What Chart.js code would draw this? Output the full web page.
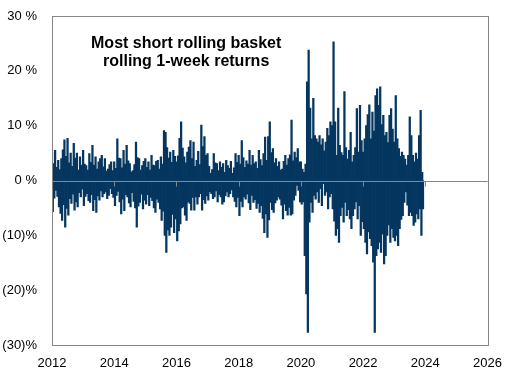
<!DOCTYPE html>
<html>
<head>
<meta charset="utf-8">
<script src="https://cdn.jsdelivr.net/npm/chart.js@4.4.1/dist/chart.umd.min.js"></script>
<style>
  body { margin: 0; background: #fff; }
  canvas { display: block; }
</style>
</head>
<body>
<canvas id="chart" width="513" height="376"></canvas>
<script>
// rolling 1-week returns (%): 20 up-moves and 20 down-moves per year
const pos2012 = [5.2,3.1,5.5,2.4,3.7,2.0,4.0,5.6,7.4,4.4,7.7,3.2,5.0,2.6,6.8,4.1,5.0,1.9,4.3,2.8];
const neg2012 = [-5.7,-3.2,-1.8,-2.9,-4.8,-6.0,-7.3,-4.4,-8.5,-5.1,-6.3,-3.3,-4.2,-2.5,-5.4,-3.9,-4.8,-2.2,-3.0,-1.6];
const pos2013 = [5.5,3.0,2.7,1.9,4.9,3.3,6.4,2.8,4.3,2.1,3.4,4.0,4.6,2.5,4.0,1.7,2.1,2.9,3.4,1.8];
const neg2013 = [-4.6,-2.9,-2.4,-3.7,-4.0,-2.6,-5.5,-3.5,-5.8,-2.8,-3.6,-1.9,-3.0,-2.4,-2.1,-3.3,-2.7,-1.5,-2.4,-3.1];
const pos2014 = [3.4,2.2,7.6,4.1,4.0,2.3,5.5,3.0,6.4,3.6,3.1,1.6,1.8,2.9,7.0,4.2,4.0,1.9,2.7,3.5];
const neg2014 = [-4.6,-2.7,-2.0,-3.9,-6.1,-3.4,-5.5,-2.6,-3.0,-4.1,-4.8,-2.2,-3.8,-5.0,-8.5,-4.7,-4.0,-2.5,-5.2,-3.6];
const pos2015 = [4.0,2.4,3.4,1.9,4.6,2.8,2.7,3.5,3.7,2.1,4.3,3.0,9.1,8.8,6.0,4.1,5.2,3.3,5.5,4.4];
const neg2015 = [-4.3,-2.6,-4.6,-3.1,-3.7,-5.0,-5.8,-3.4,-4.0,-5.2,-7.3,-5.6,-10.0,-13.1,-9.0,-10.0,-8.5,-6.2,-9.5,-7.0];
const pos2016 = [3.4,4.5,7.7,10.7,5.9,4.3,3.2,5.2,6.1,7.3,4.0,7.0,2.6,3.7,5.3,2.9,10.1,6.2,8.0,4.6];
const neg2016 = [-11.0,-9.2,-7.9,-5.0,-4.8,-6.3,-7.3,-3.9,-4.2,-5.4,-3.1,-5.4,-3.0,-4.3,-3.0,-2.4,-5.4,-3.5,-4.2,-2.8];
const pos2017 = [4.9,2.6,1.3,2.0,4.9,3.2,3.1,1.8,3.4,2.4,3.1,1.5,3.7,2.7,2.2,3.5,1.3,2.3,4.9,3.3];
const neg2017 = [-3.6,-2.1,-2.4,-3.3,-3.0,-1.9,-3.9,-2.6,-3.0,-4.3,-3.9,-2.8,-2.1,-3.0,-2.4,-1.7,-3.0,-3.8,-4.8,-3.1];
const pos2018 = [4.6,3.0,7.3,4.2,2.4,3.6,3.0,5.5,2.8,4.6,3.1,3.4,2.2,5.5,3.8,2.7,4.9,7.9,3.7,8.0];
const neg2018 = [-6.4,-3.8,-4.8,-3.0,-3.4,-2.5,-4.1,-5.3,-2.7,-4.0,-3.5,-5.1,-4.2,-5.8,-4.6,-6.9,-9.5,-6.1,-10.4,-7.2];
const pos2019 = [10.7,5.1,5.8,3.2,4.0,2.6,3.4,1.9,2.1,3.5,4.6,2.8,4.0,4.7,11.0,3.6,5.2,4.2,5.8,3.4];
const neg2019 = [-4.0,-5.3,-5.8,-4.1,-3.6,-3.0,-3.4,-4.5,-7.0,-4.3,-5.5,-6.3,-4.9,-6.3,-6.1,-3.6,-2.7,-0.9,-1.8,-3.9];
const pos2020 = [3.4,2.1,1.5,3.0,18.0,23.8,13.2,7.6,15.0,8.2,7.6,7.0,8.2,6.5,7.6,5.4,7.0,9.5,8.2,10.7];
const neg2020 = [-4.3,-3.9,-13.7,-20.7,-27.7,-7.6,-4.0,-5.8,-2.7,-3.4,-2.1,-4.0,-1.5,-4.6,-0.6,-2.7,-2.1,-5.2,-3.0,-2.4];
const pos2021 = [10.0,25.3,10.7,4.6,13.2,6.4,5.1,4.6,16.2,6.0,3.9,5.5,8.8,3.4,4.6,6.0,13.1,5.2,13.7,7.3];
const neg2021 = [-5.2,-7.4,-10.0,-8.8,-11.3,-6.4,-4.9,-7.6,-4.0,-6.4,-5.3,-7.0,-8.8,-6.4,-5.2,-3.9,-7.0,-4.6,-10.0,-7.5];
const pos2022 = [5.2,7.6,10.0,12.0,13.8,7.6,12.5,9.0,15.5,16.7,13.7,17.1,10.2,11.9,8.2,8.8,6.9,11.9,13.1,9.4];
const neg2022 = [-8.8,-11.3,-13.4,-9.4,-10.6,-11.9,-14.9,-27.7,-13.7,-12.5,-11.3,-13.1,-9.8,-15.2,-13.7,-10.0,-8.1,-11.3,-8.8,-10.4];
const pos2023 = [7.0,15.5,7.6,5.8,4.4,5.2,4.6,3.9,2.8,4.6,11.6,8.2,4.6,3.4,5.0,3.9,8.2,12.8,1.5];
const neg2023 = [-11.0,-10.0,-11.9,-8.8,-7.1,-6.4,-4.0,-2.1,-4.5,-6.4,-5.8,-6.4,-8.2,-7.6,-6.1,-7.0,-5.2,-10.0,-5.2];

const years = [2012,2013,2014,2015,2016,2017,2018,2019,2020,2021,2022,2023];
const upMoves = [pos2012,pos2013,pos2014,pos2015,pos2016,pos2017,pos2018,pos2019,pos2020,pos2021,pos2022,pos2023];
const downMoves = [neg2012,neg2013,neg2014,neg2015,neg2016,neg2017,neg2018,neg2019,neg2020,neg2021,neg2022,neg2023];
const perYear = 40;

const xTicks = [2012,2014,2016,2018,2020,2022,2024,2026];
const yTicks = [-30,-20,-10,0,10,20,30];
const titleLines = ['Most short rolling basket', 'rolling 1-week returns'];

// readings alternate up / down through each year
const points = [];
years.forEach(function (yr, k) {
    upMoves[k].forEach(function (v, j) {
        points.push({ x: yr + (2 * j) / perYear, y: v });
        points.push({ x: yr + (2 * j + 1) / perYear, y: downMoves[k][j] });
    });
});

const gray = '#868686';

// frame, zero line with its tick marks, and the title inside the plot
const framePlugin = {
    id: 'frame',
    afterDatasetsDraw(chart) {
        const ctx = chart.ctx;
        const a = chart.chartArea;
        const xs = chart.scales.x;
        const y0 = Math.round(chart.scales.y.getPixelForValue(0)) + 0.5;
        ctx.save();
        ctx.strokeStyle = gray;
        ctx.lineWidth = 1;
        ctx.beginPath();
        ctx.moveTo(a.left, y0);
        ctx.lineTo(a.right, y0);
        xTicks.forEach(function (t) {
            const px = Math.round(xs.getPixelForValue(t)) + 0.5;
            ctx.moveTo(px, y0);
            ctx.lineTo(px, y0 + 5);
        });
        ctx.stroke();
        ctx.strokeRect(Math.round(a.left) + 0.5, Math.round(a.top) + 0.5,
            Math.round(a.right - a.left), Math.round(a.bottom - a.top));

        ctx.fillStyle = '#000';
        ctx.font = 'bold 16px "Liberation Sans", Arial, sans-serif';
        ctx.textAlign = 'center';
        ctx.textBaseline = 'middle';
        const cx = a.left + (a.right - a.left) * 0.308;
        ctx.fillText(titleLines[0], cx, a.top + 28);
        ctx.fillText(titleLines[1], cx, a.top + 46);
        ctx.restore();
    }
};

const ctx = document.getElementById('chart').getContext('2d');
const chart = new Chart(ctx, {
    type: 'bar',
    data: {
        datasets: [{
            data: points,
            backgroundColor: '#04365F',
            borderWidth: 0,
            barThickness: 1.6
        }]
    },
    options: {
        responsive: false,
        animation: false,
        layout: { padding: { top: 16, right: 23, left: 0, bottom: 0 } },
        plugins: { legend: { display: false }, tooltip: { enabled: false } },
        scales: {
            x: {
                type: 'linear',
                min: 2012,
                max: 2026,
                offset: false,
                grid: { display: false, drawTicks: false },
                border: { display: false },
                afterBuildTicks: function (s) { s.ticks = xTicks.map(v => ({ value: v })); },
                afterFit: function (s) { s.height = 31; },
                ticks: {
                    autoSkip: false,
                    maxRotation: 0,
                    padding: 11,
                    color: '#000',
                    font: { family: '"Liberation Sans", Arial, sans-serif', size: 13 },
                    callback: v => String(v)
                }
            },
            y: {
                min: -30,
                max: 30,
                grid: { display: false, drawTicks: false },
                border: { display: false },
                afterBuildTicks: function (s) { s.ticks = yTicks.map(v => ({ value: v })); },
                afterFit: function (s) {
                    s.width = 52;
                    s.paddingTop = 0;
                    s.paddingBottom = 0;
                },
                ticks: {
                    padding: 15,
                    color: '#000',
                    font: { family: '"Liberation Sans", Arial, sans-serif', size: 13 },
                    callback: function (v) {
                        if (v > 0) return v + ' %';
                        if (v === 0) return '0 %';
                        return '(' + (-v) + ')%';
                    }
                }
            }
        }
    },
    plugins: [framePlugin]
});
</script>
</body>
</html>
